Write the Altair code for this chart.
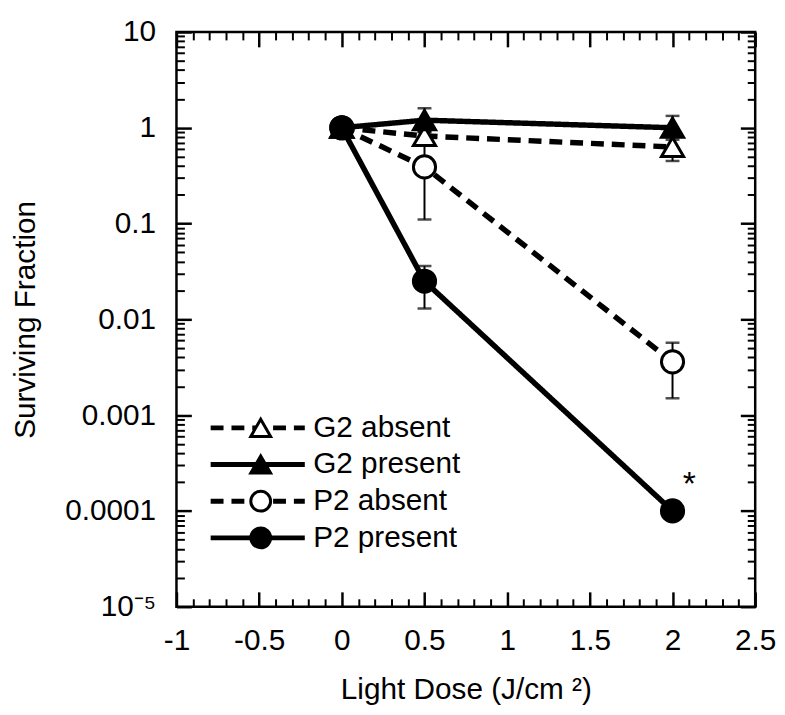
import altair as alt
import pandas as pd

# ---- data ----
doses = [0, 0.5, 2]
series_names = ["G2 absent", "G2 present", "P2 absent", "P2 present"]

g2_absent = [1.0, 0.82, 0.63]
g2_absent_lo = [None, 0.73, 0.45]
g2_absent_hi = [None, 0.91, 0.80]

g2_present = [1.0, 1.2, 1.0]
g2_present_lo = [None, 0.9, 0.75]
g2_present_hi = [None, 1.6, 1.33]

p2_absent = [1.0, 0.39, 0.0036]
p2_absent_lo = [None, 0.11, 0.0015]
p2_absent_hi = [None, 0.67, 0.0057]

p2_present = [1.0, 0.025, 0.0001]
p2_present_lo = [None, 0.013, None]
p2_present_hi = [None, 0.036, None]

x_major = [-1, -0.5, 0, 0.5, 1, 1.5, 2, 2.5]
x_minor = [round(-1 + 0.1 * i, 1) for i in range(36) if i % 5 != 0]
y_major = [1e-5, 1e-4, 1e-3, 1e-2, 1e-1, 1, 10]
y_minor = [m * 10.0 ** e for e in range(-5, 1) for m in range(2, 10)]

ann_dose = [2]
ann_value = [0.0001]
ann_text = ["*"]

# ---- tables ----
rows = []
for name, vals, lo, hi in zip(
    series_names,
    [g2_absent, g2_present, p2_absent, p2_present],
    [g2_absent_lo, g2_present_lo, p2_absent_lo, p2_present_lo],
    [g2_absent_hi, g2_present_hi, p2_absent_hi, p2_present_hi],
):
    for d, v, l, h in zip(doses, vals, lo, hi):
        rows.append(dict(dose=d, value=v, lo=l, hi=h, series=name, sym=name + " (marker)"))
df = pd.DataFrame(rows)
err = df.dropna(subset=["lo"]).copy()
caps_df = pd.concat([
    err[["dose", "lo"]].rename(columns={"lo": "bound"}),
    err[["dose", "hi"]].rename(columns={"hi": "bound"}),
])
ann = pd.DataFrame({"dose": ann_dose, "value": ann_value, "label": ann_text})
sym_names = [s + " (marker)" for s in series_names]

W, H = 584, 580
FONT = "Liberation Sans"
FS = 30
LFS = 30

xs = alt.Scale(domain=[-1, 2.5], nice=False, zero=False)
ys = alt.Scale(type="log", domain=[1e-5, 10], nice=False)


def tick_axis(orient, offset, values, size, width):
    return alt.Axis(orient=orient, offset=offset, values=values, tickSize=size,
                    tickWidth=width, tickColor="black", labels=False, domain=False,
                    grid=False, title=None)


x_label_axis = alt.Axis(
    orient="bottom", values=x_major, tickSize=0, domain=False, grid=False,
    labelFont=FONT, labelFontSize=FS, labelColor="black", labelPadding=19,
    labelFlush=False, labelOverlap=False, labelExpr="'' + datum.value",
    title="Light Dose (J/cm ²)", titleFont=FONT, titleFontSize=FS,
    titleFontWeight="normal", titleColor="black", titlePadding=20,
)
y_label_axis = alt.Axis(
    orient="left", values=y_major, tickSize=0, domain=False, grid=False,
    labelFont=FONT, labelFontSize=FS, labelColor="black", labelPadding=21,
    labelFlush=False, labelOverlap=False,
    labelExpr="datum.value < 0.00002 ? '10⁻⁵' : '' + datum.value",
    title="Surviving Fraction", titleFont=FONT, titleFontSize=FS,
    titleFontWeight="normal", titleColor="black", titlePadding=24,
)

dash_range = [[13, 8], [1, 0], [13, 8], [1, 0]]
shape_range = ["triangle-up", "triangle-up", "circle", "circle"]
fill_range = ["white", "black", "white", "black"]

common_legend = dict(title=None, orient="none", legendY=381, clipHeight=37,
                     rowPadding=0, padding=0, labelFont=FONT, labelFontSize=LFS,
                     labelColor="black")
line_legend = alt.Legend(legendX=32, symbolType="stroke", symbolSize=9025,
                         symbolStrokeWidth=5, symbolStrokeColor="black",
                         labelOffset=6, **common_legend)
pt_legend = alt.Legend(legendX=70, symbolSize=400, symbolStrokeWidth=3,
                       symbolStrokeColor="black", labelExpr="''", **common_legend)

lines = alt.Chart(df).mark_line(strokeWidth=5.5, color="black").encode(
    x=alt.X("dose:Q", scale=xs, axis=x_label_axis),
    y=alt.Y("value:Q", scale=ys, axis=y_label_axis),
    strokeDash=alt.StrokeDash("series:N", scale=alt.Scale(domain=series_names, range=dash_range),
                              legend=line_legend),
    order="dose:Q",
)

rules = alt.Chart(err).mark_rule(strokeWidth=2, color="black").encode(
    x=alt.X("dose:Q", scale=xs, axis=tick_axis("top", -H, x_major, 15, 2.5)),
    y=alt.Y("lo:Q", scale=ys, axis=tick_axis("right", -W, y_major, 15, 2.5)),
    y2="hi:Q",
)

caps = alt.Chart(caps_df).mark_tick(orient="horizontal", size=14, thickness=2.5, color="black").encode(
    x=alt.X("dose:Q", scale=xs, axis=tick_axis("bottom", -H, x_major, 15, 2.5)),
    y=alt.Y("bound:Q", scale=ys, axis=tick_axis("left", -W, y_major, 15, 2.5)),
)

points = alt.Chart(df).mark_point(
    filled=True, size=500, strokeWidth=3, opacity=1
).encode(
    x=alt.X("dose:Q", scale=xs, axis=tick_axis("top", -H, x_minor, 8, 2)),
    y=alt.Y("value:Q", scale=ys, axis=tick_axis("right", -W, y_minor, 8, 2)),
    shape=alt.Shape("sym:N", scale=alt.Scale(domain=sym_names, range=shape_range), legend=pt_legend),
    fill=alt.Fill("sym:N", scale=alt.Scale(domain=sym_names, range=fill_range), legend=pt_legend),
    stroke=alt.Stroke("sym:N", scale=alt.Scale(domain=sym_names, range=["black"] * 4), legend=pt_legend),
)

star = alt.Chart(ann).mark_text(dx=17, dy=-26, fontSize=34, font=FONT, color="black").encode(
    x=alt.X("dose:Q", scale=xs, axis=tick_axis("bottom", -H, x_minor, 8, 2)),
    y=alt.Y("value:Q", scale=ys, axis=tick_axis("left", -W, y_minor, 8, 2)),
    text="label:N",
)

chart = alt.layer(lines, rules, caps, points, star).resolve_axis(
    x="independent", y="independent"
).properties(
    width=W, height=H,
    padding={"left": 170, "top": 21, "right": 22, "bottom": 98},
    autosize=alt.AutoSizeParams(type="none"),
    background="white",
).configure_view(stroke="black", strokeWidth=2.5)

chart.save("out.html", embed_options={"renderer": "svg", "actions": False})
